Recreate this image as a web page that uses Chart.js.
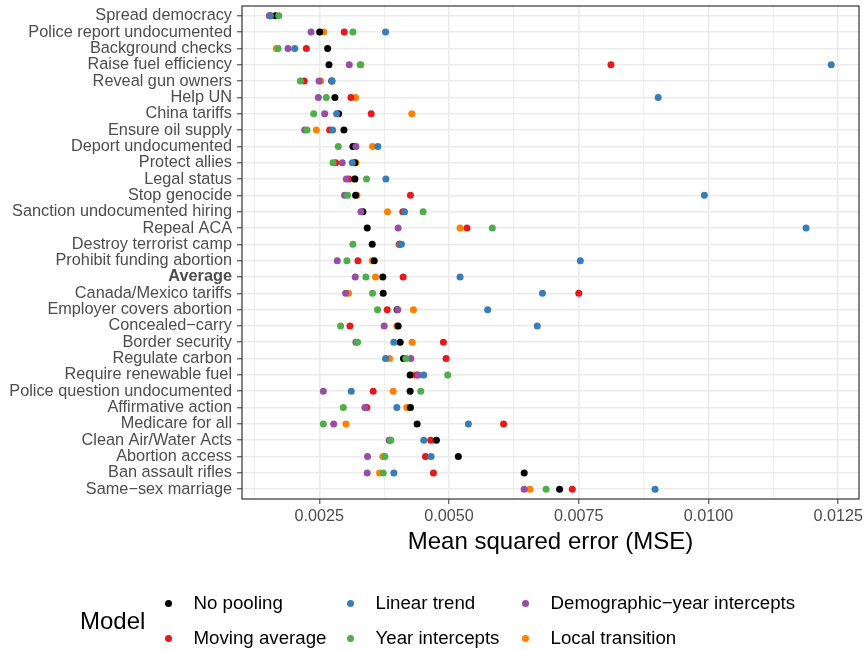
<!DOCTYPE html>
<html>
<head>
<meta charset="utf-8">
<script src="https://cdn.jsdelivr.net/npm/chart.js@4.4.1/dist/chart.umd.min.js"></script>
<style>
  html, body { margin: 0; padding: 0; background: #fff; }
  #wrap { position: relative; width: 865px; height: 651px; font-family: "Liberation Sans", Arial, Helvetica, sans-serif; }
  #chart { position: absolute; left: 0; top: 0; }
  #legendTitle { position: absolute; left: 80px; top: 606px; font-size: 24px; line-height: 30px; color: #000; }
  #legend { position: absolute; left: 164.5px; top: 585.5px; display: grid;
            grid-template-columns: 182px 175px auto; grid-auto-rows: 35px;
            font-size: 18.7px; color: #000; }
  .item { display: flex; align-items: center; white-space: nowrap; }
  .dot { width: 7px; height: 7px; border-radius: 50%; margin-right: 22px; flex: none; }
</style>
</head>
<body>
<div id="wrap">
  <canvas id="chart" width="865" height="651"></canvas>
  <div id="legendTitle">Model</div>
  <div id="legend"></div>
</div>
<script>
// Survey questions, top to bottom (ordered by the no-pooling error)
const categories = [
  "Spread democracy", "Police report undocumented", "Background checks",
  "Raise fuel efficiency", "Reveal gun owners", "Help UN", "China tariffs",
  "Ensure oil supply", "Deport undocumented", "Protect allies", "Legal status",
  "Stop genocide", "Sanction undocumented hiring", "Repeal ACA",
  "Destroy terrorist camp", "Prohibit funding abortion", "Average",
  "Canada/Mexico tariffs", "Employer covers abortion", "Concealed\u2212carry",
  "Border security", "Regulate carbon", "Require renewable fuel",
  "Police question undocumented", "Affirmative action", "Medicare for all",
  "Clean Air/Water Acts", "Abortion access", "Ban assault rifles",
  "Same\u2212sex marriage"
];

// Mean squared error per question, one array per model
const noPooling = [
  0.001654, 0.002506, 0.002660, 0.002686, 0.002740, 0.002800, 0.002872, 0.002974,
  0.003147, 0.003186, 0.003186, 0.003199, 0.003340, 0.003423, 0.003519, 0.003558,
  0.003724, 0.003731, 0.004000, 0.004019, 0.004058, 0.004122, 0.004250, 0.004250,
  0.004256, 0.004385, 0.004756, 0.005179, 0.006448, 0.007130
];
const movingAverage = [
  0.001540, 0.002980, 0.002250, 0.008120, 0.002210, 0.003109, 0.003500, 0.002699,
  0.003190, 0.002814, 0.003071, 0.004256, 0.004109, 0.005346, 0.004050, 0.003244,
  0.004115, 0.007500, 0.003808, 0.003090, 0.004891, 0.004942, 0.004380, 0.003538,
  0.003417, 0.006051, 0.004647, 0.004545, 0.004699, 0.007375
];
const linearTrend = [
  0.001558, 0.003776, 0.002026, 0.012365, 0.002744, 0.009030, 0.002833, 0.002756,
  0.003628, 0.003135, 0.003782, 0.009920, 0.004141, 0.011880, 0.004083, 0.007530,
  0.005212, 0.006800, 0.005744, 0.006700, 0.003936, 0.003776, 0.004513, 0.003115,
  0.003994, 0.005372, 0.004513, 0.004654, 0.003936, 0.008970
];
const yearIntercepts = [
  0.001718, 0.003147, 0.001705, 0.003288, 0.002135, 0.002635, 0.002391, 0.002263,
  0.002865, 0.002763, 0.003410, 0.003045, 0.004500, 0.005833, 0.003147, 0.003032,
  0.003397, 0.003526, 0.003622, 0.002910, 0.003237, 0.004167, 0.004974, 0.004455,
  0.002962, 0.002577, 0.003878, 0.003763, 0.003731, 0.006870
];
const demographicYear = [
  0.001545, 0.002340, 0.001897, 0.003077, 0.002494, 0.002481, 0.002603, 0.002218,
  0.003205, 0.002942, 0.003019, 0.002987, 0.003301, 0.004019, 0.004050, 0.002846,
  0.003192, 0.003006, 0.004013, 0.003750, 0.003205, 0.004263, 0.004410, 0.002577,
  0.003378, 0.002776, 0.003846, 0.003429, 0.003423, 0.006448
];
const localTransition = [
  0.001560, 0.002583, 0.001673, 0.003300, 0.002526, 0.003199, 0.004282, 0.002442,
  0.003526, 0.003205, 0.003180, 0.003224, 0.003814, 0.005212, 0.004032, 0.003519,
  0.003583, 0.003064, 0.004314, 0.003994, 0.004288, 0.003853, 0.004314, 0.003923,
  0.004186, 0.003013, 0.003860, 0.003724, 0.003660, 0.006558
];

// Axis tick values: labelled major ticks and unlabelled minor grid lines
const mseTicks = [0.0025, 0.0050, 0.0075, 0.0100, 0.0125];
const mseMinorGrid = [0.00125, 0.00375, 0.00625, 0.00875, 0.01125];

// Models in legend order; `layer` sets stacking (lower = drawn on top)
const models = [
  { name: "No pooling",                       values: noPooling,       color: "#000000", layer: 3 },
  { name: "Linear trend",                     values: linearTrend,     color: "#377EB8", layer: 1 },
  { name: "Demographic\u2212year intercepts", values: demographicYear, color: "#984EA3", layer: 2 },
  { name: "Moving average",                   values: movingAverage,   color: "#E41A1C", layer: 4 },
  { name: "Year intercepts",                  values: yearIntercepts,  color: "#4DAF4A", layer: 0 },
  { name: "Local transition",                 values: localTransition, color: "#FF7F00", layer: 5 }
];

Chart.defaults.font.family = "'Liberation Sans', Arial, Helvetica, sans-serif";

const isMajor = v => mseTicks.some(t => Math.abs(t - v) < 1e-9);
const gridValues = mseTicks.concat(mseMinorGrid).sort((a, b) => a - b);

const panelBorder = {
  id: 'panelBorder',
  afterDraw(chart) {
    const { ctx, chartArea: a } = chart;
    ctx.save();
    ctx.strokeStyle = '#333333';
    ctx.lineWidth = 1.2;
    ctx.strokeRect(a.left, a.top, a.right - a.left, a.bottom - a.top);
    ctx.restore();
  }
};

const datasets = models.map(m => ({
  label: m.name,
  data: m.values.map((v, i) => ({ x: v, y: i })),
  backgroundColor: m.color,
  borderColor: m.color,
  borderWidth: 0,
  pointRadius: 3.5,
  pointHoverRadius: 3.5,
  order: m.layer
}));

new Chart(document.getElementById('chart'), {
  type: 'scatter',
  data: { datasets },
  options: {
    responsive: false,
    animation: false,
    devicePixelRatio: 1,
    events: [],
    layout: { padding: { left: 0, top: 6, right: 6, bottom: 94 } },
    plugins: { legend: { display: false }, tooltip: { enabled: false } },
    scales: {
      x: {
        type: 'linear',
        position: 'bottom',
        min: 0.00101,
        max: 0.0129,
        afterBuildTicks: s => { s.ticks = gridValues.map(v => ({ value: v })); },
        afterFit: s => { s.height = 58; s.paddingLeft = 0; s.paddingRight = 0; },
        border: { display: false },
        grid: {
          color: '#ebebeb',
          lineWidth: c => (c.tick && isMajor(c.tick.value)) ? 1.6 : 0.8,
          tickColor: c => (c.tick && isMajor(c.tick.value)) ? '#333333' : 'rgba(0,0,0,0)',
          tickLength: 5,
          tickWidth: 1
        },
        ticks: {
          autoSkip: false,
          maxRotation: 0,
          padding: 3,
          color: '#4d4d4d',
          font: { size: 16.2 },
          callback: v => isMajor(v) ? v.toFixed(4) : ''
        },
        title: {
          display: true,
          text: 'Mean squared error (MSE)',
          color: '#000000',
          font: { size: 24 },
          padding: { top: 0, bottom: 0 }
        }
      },
      y: {
        type: 'linear',
        reverse: true,
        min: -0.6,
        max: categories.length - 1 + 0.6,
        afterBuildTicks: s => { s.ticks = categories.map((c, i) => ({ value: i })); },
        afterFit: s => { s.width = 242; s.paddingTop = 0; s.paddingBottom = 0; },
        border: { display: false },
        grid: { color: '#ebebeb', lineWidth: 1.6, tickColor: '#333333', tickLength: 5, tickWidth: 1 },
        ticks: {
          autoSkip: false,
          padding: 5,
          color: '#4d4d4d',
          font: c => ({ size: 16.3, weight: (c.tick && categories[c.tick.value] === 'Average') ? 'bold' : 'normal' }),
          callback: v => categories[v]
        }
      }
    }
  },
  plugins: [panelBorder]
});

// Legend built from the model list
const legend = document.getElementById('legend');
models.forEach(m => {
  const item = document.createElement('div');
  item.className = 'item';
  const dot = document.createElement('span');
  dot.className = 'dot';
  dot.style.background = m.color;
  const label = document.createElement('span');
  label.textContent = m.name;
  item.appendChild(dot);
  item.appendChild(label);
  legend.appendChild(item);
});
</script>
</body>
</html>
